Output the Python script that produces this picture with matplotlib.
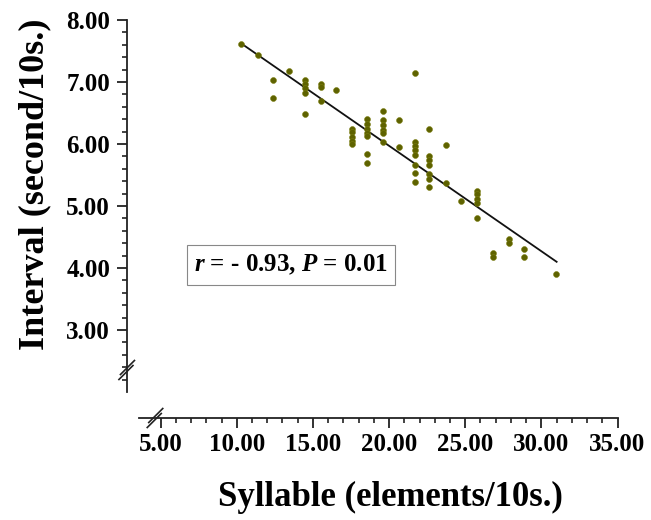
import numpy as np
import matplotlib
matplotlib.use("Agg")
import matplotlib.pyplot as plt
from matplotlib.ticker import FixedLocator, FixedFormatter
from matplotlib.transforms import ScaledTranslation

plt.rcParams['font.family'] = ['Liberation Serif', 'DejaVu Serif']
plt.rcParams['mathtext.fontset'] = 'custom'
plt.rcParams['mathtext.it'] = 'Liberation Serif:italic:bold'
plt.rcParams['mathtext.rm'] = 'Liberation Serif:bold'

# ---- data ----
syllable = [10.3, 11.4, 12.4, 12.4, 13.4,
            14.45, 14.45, 14.45, 14.45, 14.45,
            15.5, 15.5, 15.5, 16.5,
            17.55, 17.55, 17.55, 17.55, 17.55,
            18.55, 18.55, 18.55, 18.55, 18.55, 18.55, 18.55,
            19.6, 19.6, 19.6, 19.6, 19.6, 19.6,
            20.65, 20.65,
            21.7, 21.7, 21.7, 21.7, 21.7, 21.7, 21.7, 21.7,
            22.65, 22.65, 22.65, 22.65, 22.65, 22.65, 22.65,
            23.75, 23.75, 24.75,
            25.75, 25.75, 25.75, 25.75, 25.75,
            26.85, 26.85, 27.85, 27.85, 28.85, 28.85, 30.95]
interval = [7.61, 7.44, 7.04, 6.75, 7.17,
            7.03, 6.97, 6.90, 6.83, 6.48,
            6.97, 6.92, 6.70, 6.87,
            6.25, 6.19, 6.12, 6.05, 6.00,
            6.41, 6.33, 6.24, 6.18, 6.13, 5.84, 5.70,
            6.54, 6.39, 6.31, 6.23, 6.18, 6.04,
            6.39, 5.95,
            7.14, 6.03, 5.97, 5.90, 5.83, 5.66, 5.53, 5.39,
            6.24, 5.81, 5.74, 5.66, 5.52, 5.44, 5.30,
            5.98, 5.37, 5.08,
            5.25, 5.19, 5.12, 5.05, 4.80,
            4.24, 4.18, 4.46, 4.40, 4.30, 4.18, 3.90]
fit_x = [10.3, 31.0]
fit_y = [7.62, 4.10]

x_major = [5, 10, 15, 20, 25, 30, 35]
x_labels = ["5.00", "10.00", "15.00", "20.00", "25.00", "30.00", "35.00"]
y_major = [3, 4, 5, 6, 7, 8]
y_labels = ["3.00", "4.00", "5.00", "6.00", "7.00", "8.00"]

# ---- layout ----
W, H = 651, 520
fig = plt.figure(figsize=(W / 100, H / 100), dpi=100)
# pixel geometry: x=10 at px 236.8, 15.23 px/unit ; y=8 at px 20, 62 px/unit
px_l, px_r, px_t, px_b = 110, 640, 5, 430
xpu, ypu = 15.23, 62.0
x0 = 10 + (px_l - 236.8) / xpu
x1 = 10 + (px_r - 236.8) / xpu
y1 = 8 - (px_t - 20) / ypu
y0 = 8 - (px_b - 20) / ypu
ax = fig.add_axes([px_l / W, (H - px_b) / H, (px_r - px_l) / W, (px_b - px_t) / H])
ax.set_xlim(x0, x1)
ax.set_ylim(y0, y1)
ax.patch.set_alpha(0)

yaxis_x = 10 + (126.7 - 236.8) / xpu
xaxis_y = 8 - (418 - 20) / ypu

for s in ['top', 'right']:
    ax.spines[s].set_visible(False)
ax.spines['left'].set_position(('data', yaxis_x))
ax.spines['left'].set_bounds(2.0, 8.0)
ax.spines['bottom'].set_position(('data', xaxis_y))
ax.spines['bottom'].set_bounds(3.6, 35)
for s in ['left', 'bottom']:
    ax.spines[s].set_linewidth(1.3)
    ax.spines[s].set_color('#222222')

ax.xaxis.set_major_locator(FixedLocator(x_major))
ax.xaxis.set_major_formatter(FixedFormatter(x_labels))
ax.xaxis.set_minor_locator(FixedLocator([v for v in range(6, 35) if v % 5]))
ax.yaxis.set_major_locator(FixedLocator(y_major))
ax.yaxis.set_major_formatter(FixedFormatter(y_labels))
ax.yaxis.set_minor_locator(FixedLocator([round(2.2 + 0.2 * i, 2) for i in range(30)
                                         if abs((2.2 + 0.2 * i) - round(2.2 + 0.2 * i)) > 1e-6]))

ax.tick_params(which='major', length=7, width=1.3, color='#222222', labelsize=18, pad=5)
ax.tick_params(axis='x', which='major', pad=4)
ax.tick_params(which='minor', length=3.5, width=1.2, color='#222222')
for lab in ax.get_xticklabels() + ax.get_yticklabels():
    lab.set_fontweight('bold')

ax.scatter(syllable, interval, s=18, color='#5e6200', edgecolors='#7a7d10', linewidths=0.4, zorder=3)
ax.plot(fit_x, fit_y, color='#111111', lw=1.3, zorder=2)

# break marks
def brk(cx, cy):
    tr = fig.dpi_scale_trans + ScaledTranslation(cx, cy, ax.transData)
    for off in (-0.025, 0.025):
        ax.plot([-0.07 + off * 0.3, 0.07 + off * 0.3], [-0.07 + off, 0.07 + off],
                transform=tr, color='#222222', lw=1.2, clip_on=False)
brk(yaxis_x, 8 - (370 - 20) / ypu)
brk(10 + (155 - 236.8) / xpu, xaxis_y)

# labels
fig.text(35 / W, 1 - 184 / H, "Interval (second/10s.)", rotation=90, ha='center', va='center',
         fontsize=26, fontweight='bold')
fig.text(390 / W, 1 - 497 / H, "Syllable (elements/10s.)", ha='center', va='center',
         fontsize=25, fontweight='bold')

fig.text(291 / W, 1 - 265 / H, r"$r$ = - 0.93, $P$ = 0.01", ha='center', va='center',
         fontsize=18, fontweight='bold',
         bbox=dict(boxstyle='square,pad=0.3', fc='white', ec='#888888', lw=0.8))

fig.savefig("out.png", dpi=100)
